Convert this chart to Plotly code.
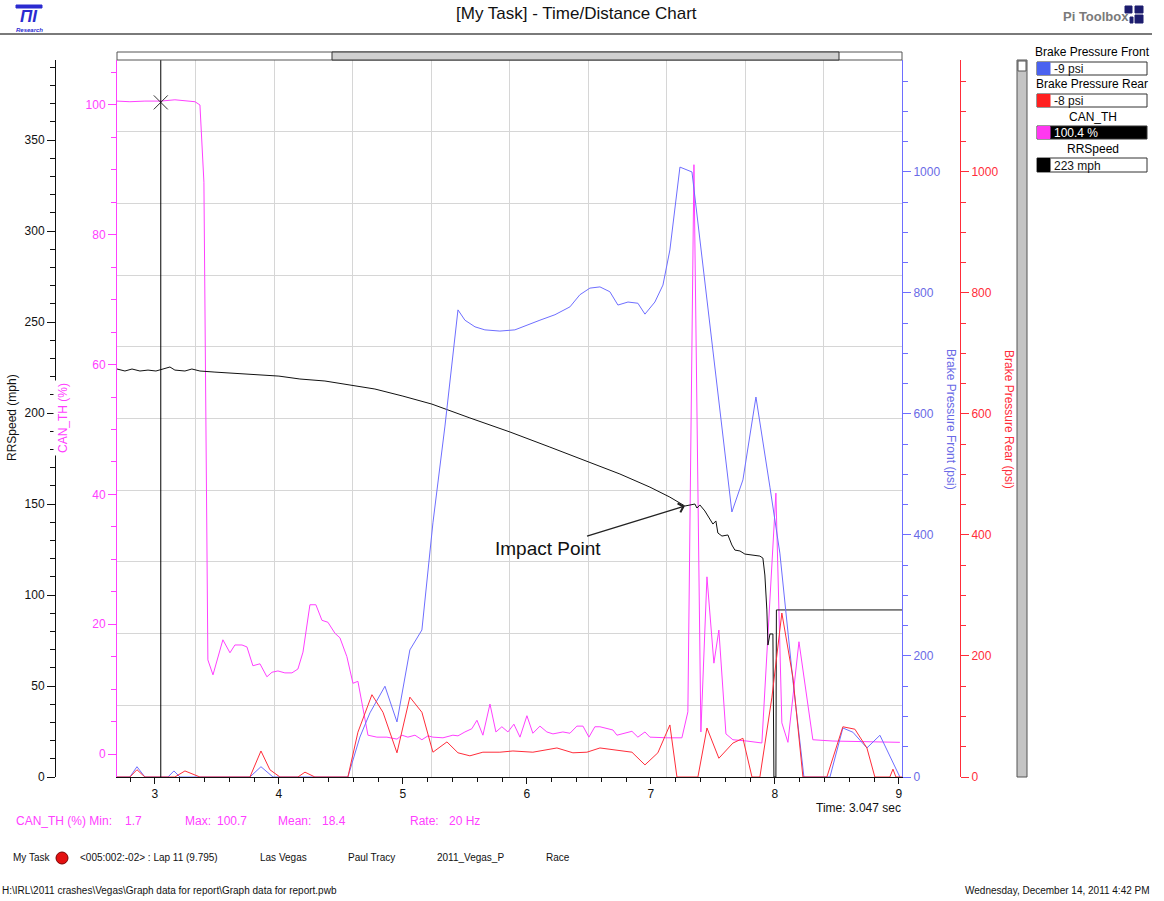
import plotly.graph_objects as go

# ---------------- data ----------------
speed_time = [2.694, 2.758, 2.815, 2.879, 2.944, 3.008, 3.065, 3.121, 3.161, 3.242, 3.298, 3.363,
              3.484, 3.605, 3.766, 4.0, 4.169, 4.371, 4.573, 4.774, 5.0, 5.234, 5.54, 5.863, 6.185,
              6.492, 6.75, 6.992, 7.153, 7.274, 7.315, 7.355, 7.371, 7.395, 7.435, 7.476, 7.5, 7.524,
              7.54, 7.573, 7.621, 7.653, 7.677, 7.718, 7.758, 7.879, 7.903, 7.919, 7.935, 7.944, 7.96,
              7.984, 7.992, 8.008, 8.012, 9.025]
speed_mph = [224.2, 223.1, 224.2, 223.1, 223.6, 223.1, 224.2, 225.3, 223.6, 223.1, 224.2, 223.1,
             222.5, 222.0, 221.4, 220.3, 218.7, 217.6, 215.4, 213.2, 209.3, 204.9, 197.3, 189.6, 181.3,
             173.1, 166.5, 159.3, 153.8, 148.9, 149.5, 150.0, 147.8, 149.5, 146.2, 141.8, 139.0, 140.7,
             134.1, 132.4, 133.0, 127.5, 124.7, 124.2, 122.5, 121.4, 120.3, 111.0, 91.8, 72.5, 78.6,
             78.6, 0, 0, 91.8, 91.8]

can_time = [2.694, 2.798, 2.919, 3.048, 3.161, 3.242, 3.323, 3.363, 3.395, 3.427, 3.468, 3.548,
            3.605, 3.645, 3.702, 3.742, 3.79, 3.847, 3.903, 3.944, 3.992, 4.048, 4.105, 4.153, 4.194,
            4.25, 4.298, 4.347, 4.395, 4.452, 4.492, 4.548, 4.597, 4.637, 4.677, 4.718, 4.79, 4.871,
            4.952, 4.992, 5.04, 5.097, 5.153, 5.202, 5.242, 5.323, 5.403, 5.444, 5.5, 5.556, 5.597,
            5.645, 5.702, 5.75, 5.798, 5.847, 5.895, 5.944, 6.0, 6.048, 6.105, 6.161, 6.21, 6.29,
            6.347, 6.403, 6.452, 6.5, 6.548, 6.589, 6.694, 6.726, 6.847, 6.895, 6.952, 6.992, 7.129,
            7.25, 7.298, 7.347, 7.403, 7.452, 7.508, 7.548, 7.605, 7.661, 7.774, 7.895, 8.008, 8.056,
            8.105, 8.194, 8.306, 8.468, 9.008]
can_pct = [100.6, 100.5, 100.6, 100.6, 100.8, 100.6, 100.5, 100.0, 88.1, 14.5, 12.2, 17.6,
           15.6, 16.8, 16.8, 16.5, 13.6, 13.9, 11.9, 12.6, 12.8, 12.5, 12.5, 13.1, 15.7,
           23.0, 23.0, 20.6, 20.3, 18.6, 17.9, 15.0, 10.9, 11.2, 7.2, 2.9, 2.6, 2.6,
           2.3, 2.9, 2.6, 2.9, 2.2, 2.8, 2.6, 2.5, 2.9, 2.8, 3.4, 3.9, 5.2,
           2.9, 7.7, 3.4, 4.2, 3.4, 4.6, 2.6, 5.9, 3.2, 4.3, 3.4, 3.1, 3.4,
           3.2, 4.3, 4.3, 2.6, 4.2, 4.2, 3.7, 2.9, 3.5, 2.6, 3.4, 2.6, 2.5,
           2.5, 6.5, 90.8, 3.4, 27.3, 14.0, 19.1, 3.1, 2.2, 2.0, 1.7, 40.2, 4.8,
           1.8, 17.3, 2.2, 2.0, 1.8]

front_time = [2.694, 2.798, 2.855, 2.919, 3.105, 3.153, 3.202, 3.766, 3.855, 3.952, 4.556, 4.653,
              4.734, 4.855, 4.952, 5.056, 5.153, 5.242, 5.339, 5.444, 5.5, 5.581, 5.661, 5.782,
              5.903, 6.0, 6.105, 6.226, 6.347, 6.427, 6.508, 6.589, 6.669, 6.734, 6.815, 6.895,
              6.952, 7.032, 7.097, 7.153, 7.194, 7.234, 7.331, 7.395, 7.476, 7.532, 7.653, 7.742,
              7.847, 7.96, 8.04, 8.145, 8.234, 8.444, 8.548, 8.629, 8.742, 8.847, 9.008]
front_psi = [0, 0, 17, 0, 0, 10, 0, 0, 17, 0, 0, 66,
             106, 150, 91, 210, 243, 420, 580, 772, 755, 744, 739, 737,
             739, 747, 755, 764, 777, 797, 808, 810, 802, 780, 785, 783,
             765, 785, 813, 871, 945, 1008, 1000, 888, 755, 656, 438, 491,
             628, 479, 370, 160, 0, 0, 81, 74, 48, 69, 0]

rear_time = [2.694, 2.798, 2.855, 2.919, 3.161, 3.242, 3.363, 3.766, 3.855, 3.927, 4.008, 4.153,
             4.21, 4.29, 4.556, 4.637, 4.75, 4.839, 4.952, 5.056, 5.153, 5.242, 5.355, 5.444, 5.54,
             5.645, 5.782, 5.887, 6.048, 6.242, 6.371, 6.484, 6.589, 6.847, 6.952, 7.056, 7.153,
             7.21, 7.379, 7.452, 7.548, 7.661, 7.742, 7.815, 7.879, 7.976, 8.056, 8.145, 8.226,
             8.419, 8.548, 8.645, 8.742, 8.806, 8.927, 8.952, 8.976, 9.025]
rear_psi = [0, 0, 12, 0, 0, 10, 0, 0, 43, 12, 0, 0,
            8, 0, 0, 74, 136, 107, 40, 132, 107, 41, 58, 40, 35,
            41, 41, 43, 41, 48, 40, 41, 48, 41, 20, 40, 86,
            0, 0, 81, 31, 56, 64, 0, 0, 132, 271, 165, 0,
            0, 83, 79, 48, 0, 0, 13, 0, 0]

x_tick_values = [3, 4, 5, 6, 7, 8, 9]
cursor_time = 3.047
cursor_can = 100.4
impact_time = 7.274
impact_speed = 148.9

legend_names = ["Brake Pressure Front", "Brake Pressure Rear", "CAN_TH", "RRSpeed"]
legend_values = ["-9 psi", "-8 psi", "100.4 %", "223 mph"]
stats_labels = ["CAN_TH (%) Min:", "Max:", "Mean:", "Rate:"]
stats_values = ["1.7", "100.7", "18.4", "20 Hz"]
info_items = ["<005:002:-02> : Lap 11 (9.795)", "Las Vegas", "Paul Tracy", "2011_Vegas_P", "Race"]

# ---------------- geometry helpers (page pixels -> paper) ----------------
W, H = 1164, 901
PX0, PX1 = 117, 902
PY0, PY1 = 60, 777
FONT = "Arial, Liberation Sans, sans-serif"
MAG = "#ff40ff"
BLUE = "#6e6eff"
RED = "#ff2d3a"
BLUE_TXT = "#6a6ae6"


def fx(px):
    return px / W


def fy(py):
    return (PY1 - py) / (PY1 - PY0)


def ann(text, x, y, size=12, color="black", xanchor="left", yanchor="middle", angle=0, **kw):
    return dict(text=text, x=fx(x), y=fy(y), xref="paper", yref="paper", showarrow=False,
                font=dict(size=size, color=color, family=FONT), xanchor=xanchor,
                yanchor=yanchor, textangle=angle, **kw)


def rect(x0, y0, x1, y1, fill, line="#444", width=1):
    return dict(type="rect", xref="paper", yref="paper", x0=fx(x0), x1=fx(x1),
                y0=fy(y1), y1=fy(y0), fillcolor=fill, line=dict(color=line, width=width),
                layer="above")


fig = go.Figure()

# grid helper trace
fig.add_trace(go.Scatter(x=[], y=[], xaxis="x2", yaxis="y5", showlegend=False, hoverinfo="skip"))

fig.add_trace(go.Scatter(x=can_time, y=can_pct, mode="lines", line=dict(color=MAG, width=1),
                         xaxis="x", yaxis="y", showlegend=False))
fig.add_trace(go.Scatter(x=front_time, y=front_psi, mode="lines", line=dict(color=BLUE, width=1),
                         xaxis="x", yaxis="y3", showlegend=False))
fig.add_trace(go.Scatter(x=rear_time, y=rear_psi, mode="lines", line=dict(color=RED, width=1),
                         xaxis="x", yaxis="y4", showlegend=False))
fig.add_trace(go.Scatter(x=speed_time, y=speed_mph, mode="lines", line=dict(color="#111", width=1),
                         xaxis="x", yaxis="y2", showlegend=False))
fig.add_trace(go.Scatter(x=[cursor_time], y=[cursor_can], mode="markers", xaxis="x", yaxis="y",
                         marker=dict(symbol="x-thin", size=14, line=dict(width=1, color="#333")),
                         showlegend=False))

dom = [fx(PX0), fx(PX1)]
tickfont = dict(size=12, family=FONT, color="#111")

fig.update_layout(
    width=W, height=H,
    margin=dict(l=0, r=0, t=PY0, b=H - PY1),
    paper_bgcolor="white", plot_bgcolor="white",
    font=dict(family=FONT),
    xaxis=dict(domain=dom, range=[2.694, 9.025], tickvals=x_tick_values, ticks="outside",
               ticklen=6, tickcolor="#111", showline=True, linecolor="#111", showgrid=False,
               zeroline=False, tickfont=tickfont, automargin=False,
               minor=dict(dtick=0.2, tick0=0, ticks="outside", ticklen=4, tickcolor="#111")),
    xaxis2=dict(overlaying="x", range=[0, 10], dtick=1, showgrid=True, gridcolor="#d6d6d6",
                showticklabels=False, ticks="", showline=False, zeroline=False, anchor="y5"),
    yaxis5=dict(overlaying="y", range=[0, 10], dtick=1, showgrid=True, gridcolor="#d6d6d6",
                showticklabels=False, ticks="", showline=False, zeroline=False, anchor="x2"),
    yaxis=dict(range=[-3.54, 106.93], tickvals=[0, 20, 40, 60, 80, 100], ticks="outside",
               ticklen=8, tickcolor=MAG, showline=True, linecolor=MAG, showgrid=False,
               zeroline=False, tickfont=dict(size=12, family=FONT, color=MAG), automargin=False,
               minor=dict(dtick=5, tick0=0, ticks="outside", ticklen=5, tickcolor=MAG)),
    yaxis2=dict(overlaying="y", anchor="free", position=fx(55), side="left", range=[0, 394],
                dtick=50, ticks="outside", ticklen=8, tickcolor="#111", showline=True,
                linecolor="#111", showgrid=False, zeroline=False, tickfont=tickfont,
                automargin=False,
                minor=dict(dtick=10, tick0=0, ticks="outside", ticklen=5, tickcolor="#111")),
    yaxis3=dict(overlaying="y", anchor="x", side="right", range=[0, 1185], dtick=200,
                ticks="outside", ticklen=8, tickcolor=BLUE, showline=True, linecolor=BLUE,
                showgrid=False, zeroline=False, automargin=False,
                tickfont=dict(size=12, family=FONT, color=BLUE_TXT),
                minor=dict(dtick=50, tick0=0, ticks="outside", ticklen=5, tickcolor=BLUE)),
    yaxis4=dict(overlaying="y", anchor="free", position=fx(960), side="right", range=[0, 1185],
                dtick=200, ticks="outside", ticklen=8, tickcolor=RED, showline=True,
                linecolor=RED, showgrid=False, zeroline=False, automargin=False,
                tickfont=dict(size=12, family=FONT, color=RED),
                minor=dict(dtick=50, tick0=0, ticks="outside", ticklen=5, tickcolor=RED)),
)

shapes = []
# cursor line
shapes.append(dict(type="line", xref="x", yref="paper", x0=cursor_time, x1=cursor_time, y0=0, y1=1,
                   line=dict(color="#000", width=1), layer="above"))
# header rule
shapes.append(dict(type="line", xref="paper", yref="paper", x0=fx(0), x1=fx(1152), y0=fy(34), y1=fy(34),
                   line=dict(color="#7a7a7a", width=2)))
# top scrollbar
shapes.append(rect(PX0, 52, PX1, 60, "white", "#555"))
shapes.append(rect(332, 52, 839, 60, "#d0d0d0", "#333"))
# right scrollbar
shapes.append(rect(1017, 60, 1027, 777, "#c4c4c4", "#555"))
shapes.append(rect(1018, 61, 1026, 71, "white", "#555"))
# Pi Toolbox squares
sq = "#1c1c6e"
shapes.append(rect(1125, 6, 1132, 13, sq, sq))
shapes.append(rect(1135, 6, 1143, 13, sq, sq))
shapes.append(rect(1135, 15, 1143, 23, sq, sq))
shapes.append(rect(1130, 17, 1133, 23, sq, sq))
# logo bar
shapes.append(rect(16, 5, 42, 8, "#2b2bd0", "#2b2bd0"))
# legend boxes
box_y = [(62, 75), (94, 107), (126, 139), (158, 172)]
box_fill = ["white", "white", "black", "white"]
swatch = ["#4a62f0", "#ff2020", "#ff38f0", "black"]
for (y0, y1), bf, sc in zip(box_y, box_fill, swatch):
    shapes.append(rect(1037, y0, 1147, y1, bf, "#333"))
    shapes.append(rect(1037.5, y0 + 0.5, 1050, y1 - 0.5, sc, sc))
# red dot in info row
shapes.append(dict(type="circle", xref="paper", yref="paper", x0=fx(56), x1=fx(68),
                   y0=fy(864), y1=fy(852), fillcolor="#e31010", line=dict(color="#7a0000", width=1)))
fig.update_layout(shapes=shapes)

annots = []
annots.append(ann("[My Task] - Time/Distance Chart", 576, 14, size=17, color="#111", xanchor="center"))
annots.append(ann("<b><i>ПI</i></b>", 29, 16, size=17, color="#2b2bd0", xanchor="center"))
annots.append(ann("<b><i>Research</i></b>", 29, 30, size=6, color="#2b2bd0", xanchor="center"))
annots.append(ann("<b>Pi Toolbox</b>", 1061, 17, size=13, color="#7a7a7a"))
# axis titles
annots.append(ann("RRSpeed (mph)", 12, 418, size=12, color="#111", xanchor="center", angle=-90))
annots.append(ann("CAN_TH (%)", 63, 418, size=12, color=MAG, xanchor="center", angle=-90,
                  bgcolor="white", borderpad=2))
annots.append(ann("Brake Pressure Front (psi)", 951, 419, size=12, color=BLUE_TXT, xanchor="center", angle=90))
annots.append(ann("Brake Pressure Rear (psi)", 1009, 419, size=12, color=RED, xanchor="center", angle=90))
# legend panel
annots.append(ann(legend_names[0], 1033, 52))
annots.append(ann(legend_names[1], 1034, 84))
annots.append(ann(legend_names[2], 1093, 117, xanchor="center"))
annots.append(ann(legend_names[3], 1093, 149, xanchor="center"))
for (y0, y1), val, col in zip(box_y, legend_values, ["#111", "#111", "white", "#111"]):
    annots.append(ann(val, 1052, (y0 + y1) / 2 + 0.5, size=12, color=col))
# time readout
annots.append(ann("Time: " + f"{cursor_time:.3f}" + " sec", 903, 808, size=12, color="#111", xanchor="right"))
# stats row
for lbl, lx, val, vx in zip(stats_labels, [14, 183, 276, 408], stats_values, [123, 215, 320, 447]):
    annots.append(ann(lbl, lx, 821, size=12, color=MAG))
    annots.append(ann(val, vx, 821, size=12, color=MAG))
# info row
annots.append(ann("My Task", 11, 858, size=10, color="#111"))
for txt, ix in zip(info_items, [78, 258, 346, 435, 544]):
    annots.append(ann(txt, ix, 858, size=10, color="#111"))
annots.append(ann("H:\\IRL\\2011 crashes\\Vegas\\Graph data for report\\Graph data for report.pwb",
                  0, 890, size=10, color="#111"))
annots.append(ann("Wednesday, December 14, 2011 4:42 PM", 1152, 890, size=10, color="#111", xanchor="right"))
# impact annotation
annots.append(dict(text="Impact Point", x=impact_time, y=impact_speed, xref="x", yref="y2",
                   showarrow=True, ax=-137, ay=42, arrowhead=4, arrowsize=1.4, arrowwidth=1.3,
                   arrowcolor="#222", font=dict(size=19, color="#111", family=FONT)))
fig.update_layout(annotations=annots)

fig.write_html("out.html", config={"displayModeBar": False},
               post_script="document.body.style.margin='0';")
